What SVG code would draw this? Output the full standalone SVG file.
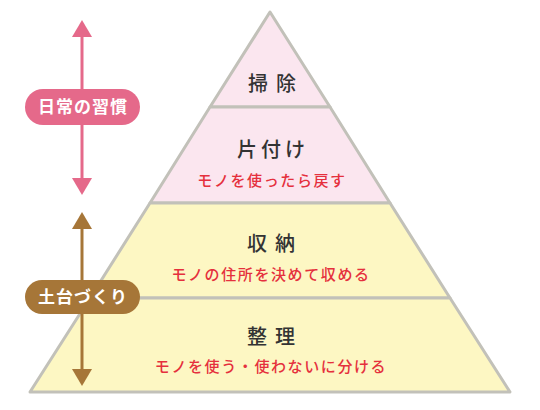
<svg xmlns="http://www.w3.org/2000/svg" width="540" height="410" viewBox="0 0 540 410">
<defs>
<style>
.jp{font-family:"Noto Sans CJK JP","Noto Sans CJK SC",sans-serif;text-anchor:middle}
.ttl{font-size:20px;fill:#333;font-weight:500}
.sub{font-size:15px;fill:#e5303d;letter-spacing:1.6px;font-weight:500}
.pill{font-size:17px;fill:#fff;font-weight:700;letter-spacing:1px}
.edge{stroke:#c2c1b9;stroke-width:3;stroke-linejoin:round}
</style>
</defs>
<rect width="540" height="410" fill="#fff"/>
<g id="pyramid">
<g id="node-soji">
<polygon points="270,12 330,107 210,107" fill="#fbe6ef" class="edge"/>
<text class="jp ttl" x="276" y="91" style="letter-spacing:8px">掃除</text>
</g>
<g id="node-katazuke">
<polygon points="210,107 330,107 390,203 150,203" fill="#fbe6ef" class="edge"/>
<text class="jp ttl" x="273" y="157" style="letter-spacing:4px">片付け</text>
<text class="jp sub" x="272" y="186">モノを使ったら戻す</text>
</g>
<g id="node-shuno">
<polygon points="150,203 390,203 450,298 90,298" fill="#fdf7c3" class="edge"/>
<text class="jp ttl" x="275" y="251" style="letter-spacing:8px">収納</text>
<text class="jp sub" x="271" y="280">モノの住所を決めて収める</text>
</g>
<g id="node-seiri">
<polygon points="90,298 450,298 510,392 30,392" fill="#fdf7c3" class="edge"/>
<text class="jp ttl" x="275" y="344" style="letter-spacing:8px">整理</text>
<text class="jp sub" x="271" y="372">モノを使う・使わないに分ける</text>
</g>
</g>
<g id="connectors">
<g id="arrow-habit">
<line x1="82" y1="35" x2="82" y2="180" stroke="#e5698a" stroke-width="3"/>
<polygon points="82,20 92,37 72,37" fill="#e5698a"/>
<polygon points="82,195 92,178 72,178" fill="#e5698a"/>
</g>
<g id="arrow-base">
<line x1="82" y1="226" x2="82" y2="372" stroke="#a67638" stroke-width="3"/>
<polygon points="82,212 92,229 72,229" fill="#a67638"/>
<polygon points="82,386 92,369 72,369" fill="#a67638"/>
</g>
</g>
<g id="label-habit">
<rect x="25" y="89" width="115" height="36" rx="18" fill="#e5698a"/>
<text class="jp pill" x="83" y="113">日常の習慣</text>
</g>
<g id="label-base">
<rect x="25" y="280" width="115" height="34" rx="17" fill="#a67638"/>
<text class="jp pill" x="83" y="303">土台づくり</text>
</g>
</svg>
